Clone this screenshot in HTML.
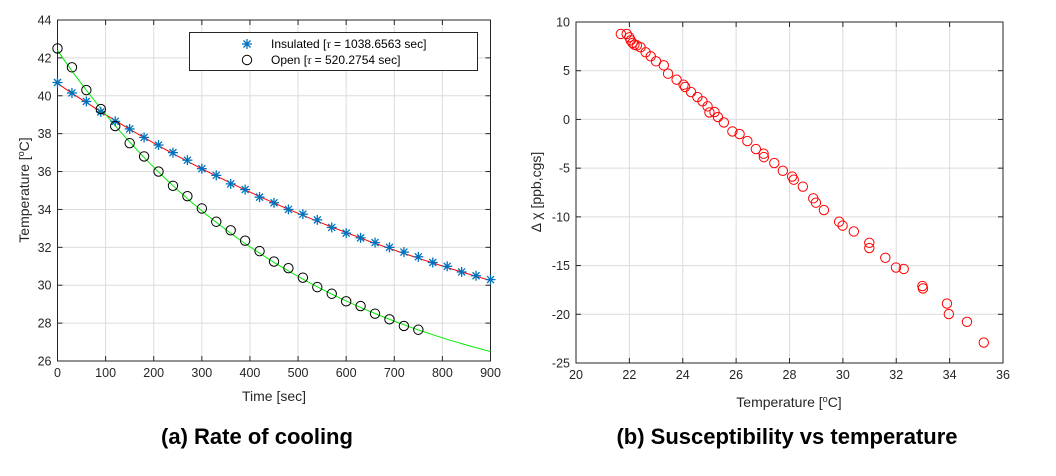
<!DOCTYPE html>
<html><head><meta charset="utf-8"><style>
body{margin:0;background:#fff;width:1056px;height:471px;overflow:hidden}
svg{font-family:"Liberation Sans",sans-serif}
.cap{font-family:"Liberation Sans","Noto Sans CJK JP",sans-serif;font-weight:bold;font-size:22px;fill:#000}
</style></head><body>
<svg id="s" width="1056" height="471" xmlns="http://www.w3.org/2000/svg"></svg>
<script>
// ---- Chart (a) data ----
const timeSec=[0,30,60,90,120,150,180,210,240,270,300,330,360,390,420,450,480,510,540,570,600,630,660,690,720,750,780,810,840,870,900];
const insulatedTemp=[40.7,40.15,39.7,39.15,38.65,38.25,37.8,37.4,37.0,36.6,36.15,35.8,35.35,35.05,34.65,34.35,34.0,33.75,33.45,33.05,32.75,32.5,32.25,32.0,31.75,31.5,31.2,31.0,30.7,30.5,30.3];
const openTemp=[42.5,41.5,40.3,39.3,38.4,37.5,36.8,36.0,35.25,34.7,34.05,33.35,32.9,32.35,31.8,31.25,30.9,30.4,29.9,29.55,29.15,28.9,28.5,28.2,27.85,27.65];
const insulatedFit={T0:40.65,Ta:22.71,tau:1038.6563};
const openFit={T0:42.4,Ta:23.07,tau:520.2754};
const aXTicks=[0,100,200,300,400,500,600,700,800,900];
const aYTicks=[26,28,30,32,34,36,38,40,42,44];
// ---- Chart (b) data ----
const tempC=[21.68,21.9,22.0,22.05,22.12,22.19,22.28,22.42,22.61,22.8,23.0,23.29,23.45,23.77,24.03,24.09,24.31,24.55,24.74,24.93,25.0,25.19,25.32,25.54,25.86,26.13,26.42,26.74,27.03,27.04,27.43,27.75,28.1,28.16,28.5,28.89,28.99,29.29,29.86,29.99,30.41,30.99,30.99,31.59,31.99,32.28,32.98,33.0,33.9,33.97,34.65,35.28];
const deltaChi=[8.77,8.77,8.43,8.12,7.85,7.67,7.6,7.4,6.89,6.48,5.96,5.55,4.69,4.08,3.56,3.33,2.81,2.3,1.86,1.34,0.72,0.76,0.24,-0.31,-1.23,-1.5,-2.22,-3.04,-3.52,-3.87,-4.48,-5.27,-5.86,-6.19,-6.9,-8.1,-8.55,-9.3,-10.5,-10.9,-11.5,-12.66,-13.2,-14.2,-15.2,-15.35,-17.1,-17.35,-18.9,-19.98,-20.77,-22.9];
const bXTicks=[20,22,24,26,28,30,32,34,36];
const bYTicks=[-25,-20,-15,-10,-5,0,5,10];

const S=document.getElementById('s');
const NS='http://www.w3.org/2000/svg';
function mk(tag,at,txt){const e=document.createElementNS(NS,tag);for(const k in at)e.setAttribute(k,at[k]);if(txt!==undefined)e.textContent=txt;S.appendChild(e);return e;}

function axes(L,T,R,B,xt,yt,sx,sy,prefix){
  for(const v of xt){const x=sx(v);
    if(v!==xt[0]&&v!==xt[xt.length-1]){const g=mk('line',{x1:x,x2:x,y1:T,y2:B,stroke:'#dcdcdc','stroke-width':1});
    }
    mk('line',{x1:x,x2:x,y1:B,y2:B-5,stroke:'#262626'});mk('line',{x1:x,x2:x,y1:T,y2:T+5,stroke:'#262626'});
    const t=mk('text',{x:x,y:B+16,'text-anchor':'middle','font-size':12.5,fill:'#262626'},String(v));
    }
  for(const v of yt){const y=sy(v);
    if(v!==yt[0]&&v!==yt[yt.length-1]){const g=mk('line',{x1:L,x2:R,y1:y,y2:y,stroke:'#dcdcdc','stroke-width':1});
    }
    mk('line',{x1:L,x2:L+5,y1:y,y2:y,stroke:'#262626'});mk('line',{x1:R,x2:R-5,y1:y,y2:y,stroke:'#262626'});
    const t=mk('text',{x:L-6,y:y+4.5,'text-anchor':'end','font-size':12.5,fill:'#262626'},String(v));
    }
  const b=mk('rect',{x:L,y:T,width:R-L,height:B-T,fill:'none',stroke:'#262626','stroke-width':1});
  
}
function star(x,y,c,r){const g=document.createElementNS(NS,'g');g.setAttribute('stroke',c);g.setAttribute('stroke-width','1.3');
  const a=r*0.7;g.innerHTML=`<line x1="${x-r}" y1="${y}" x2="${x+r}" y2="${y}"/><line x1="${x}" y1="${y-r}" x2="${x}" y2="${y+r}"/><line x1="${x-a}" y1="${y-a}" x2="${x+a}" y2="${y+a}"/><line x1="${x-a}" y1="${y+a}" x2="${x+a}" y2="${y-a}"/>`;S.appendChild(g);return g;}

// ---- Chart (a) ----
const aL=57.5,aR=490.5,aT=20,aB=361;
const ax=v=>aL+(v-0)/900*(aR-aL);
const ay=v=>aB-(v-26)/18*(aB-aT);
axes(aL,aT,aR,aB,aXTicks,aYTicks,ax,ay,'a');
function fitPath(f,col,name){let d='';for(let t=0;t<=900;t+=10){const v=f.Ta+(f.T0-f.Ta)*Math.exp(-t/f.tau);d+=(t?'L':'M')+ax(t).toFixed(1)+' '+ay(v).toFixed(1);}
  const p=mk('path',{d:d,fill:'none',stroke:col,'stroke-width':1});}
fitPath(insulatedFit,'#ff0000','insulated-fit-line');
fitPath(openFit,'#00ee00','open-fit-line');
insulatedTemp.forEach((v,i)=>{const g=star(ax(timeSec[i]),ay(v),'#0072BD',5);
  
  });
openTemp.forEach((v,i)=>{const c=mk('circle',{cx:ax(timeSec[i]),cy:ay(v),r:4.7,fill:'none',stroke:'#000','stroke-width':1});
  
  });
// legend
const lg=mk('rect',{x:189.5,y:32.5,width:288,height:38,fill:'#fff',stroke:'#262626'});

const ls=star(247,44,'#0072BD',5);
const lc=mk('circle',{cx:247,cy:60,r:4.7,fill:'none',stroke:'#000'});
let t=mk('text',{x:271,y:48,'font-size':12,fill:'#000'});t.innerHTML='Insulated [<tspan font-style="italic" font-family="Liberation Serif">τ</tspan> = 1038.6563 sec]';

t=mk('text',{x:271,y:64,'font-size':12,fill:'#000'});t.innerHTML='Open [<tspan font-style="italic" font-family="Liberation Serif">τ</tspan> = 520.2754 sec]';

t=mk('text',{x:274,y:401,'text-anchor':'middle','font-size':14,fill:'#262626'},'Time [sec]');

t=mk('text',{x:0,y:0,'text-anchor':'middle','font-size':14,fill:'#262626',transform:'translate(29,190) rotate(-90)'});t.innerHTML='Temperature [<tspan dy="-5" font-size="9">o</tspan><tspan dy="5">C]</tspan>';

t=mk('text',{x:257,y:444,'text-anchor':'middle',class:'cap'},'(a) Rate of cooling');


// ---- Chart (b) ----
const bL=576,bR=1003,bT=22,bB=363;
const bx=v=>bL+(v-20)/16*(bR-bL);
const by=v=>bB-(v+25)/35*(bB-bT);
axes(bL,bT,bR,bB,bXTicks,bYTicks,bx,by,'b');
tempC.forEach((v,i)=>{const c=mk('circle',{cx:bx(v),cy:by(deltaChi[i]),r:4.7,fill:'none',stroke:'#ff0000','stroke-width':1});
  
  });
t=mk('text',{x:789,y:407,'text-anchor':'middle','font-size':14,fill:'#262626'});t.innerHTML='Temperature [<tspan dy="-5" font-size="9">o</tspan><tspan dy="5">C]</tspan>';

t=mk('text',{x:0,y:0,'text-anchor':'middle','font-size':14,fill:'#262626',transform:'translate(541,192) rotate(-90)'},'Δ χ [ppb,cgs]');

t=mk('text',{x:787,y:444,'text-anchor':'middle',class:'cap'},'(b) Susceptibility vs temperature');

</script>
</body></html>
